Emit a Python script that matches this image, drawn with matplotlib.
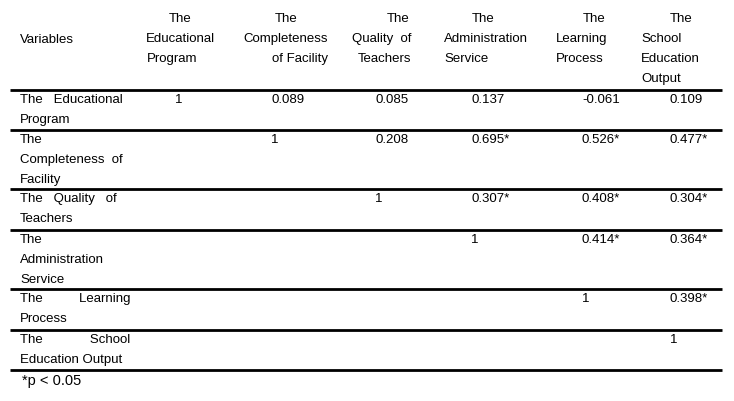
import matplotlib.pyplot as plt

plt.rcParams['font.family'] = ['Liberation Sans', 'DejaVu Sans']

row_labels = [
    ["The   Educational", "Program"],
    ["The", "Completeness  of", "Facility"],
    ["The   Quality   of", "Teachers"],
    ["The", "Administration", "Service"],
    ["The          Learning", "Process"],
    ["The             School", "Education Output"],
]
headers = [
    ["The", "Educational", "Program"],
    ["The", "Completeness", "of Facility"],
    ["The", "Quality  of", "Teachers"],
    ["The", "Administration", "Service"],
    ["The", "Learning", "Process"],
    ["The", "School", "Education", "Output"],
]
values = [
    ["1", "0.089", "0.085", "0.137", "-0.061", "0.109"],
    ["", "1", "0.208", "0.695*", "0.526*", "0.477*"],
    ["", "", "1", "0.307*", "0.408*", "0.304*"],
    ["", "", "", "1", "0.414*", "0.364*"],
    ["", "", "", "", "1", "0.398*"],
    ["", "", "", "", "", "1"],
]
note = "*p < 0.05"

fig = plt.figure(figsize=(7.34, 4.01), dpi=100)
ax = fig.add_axes([0, 0, 1, 1])
ax.set_xlim(0, 734)
ax.set_ylim(401, 0)
ax.axis('off')

fs = 9.5
line_h = 20
col_x = [175, 271, 375, 471, 582, 670]
# header alignment per line: (x, ha)
header_pos = [
    [(180, 'center'), (180, 'center'), (147, 'left')],
    [(286, 'center'), (286, 'center'), (328, 'right')],
    [(398, 'center'), (411, 'right'), (411, 'right')],
    [(483, 'center'), (444, 'left'), (444, 'left')],
    [(594, 'center'), (556, 'left'), (556, 'left')],
    [(681, 'center'), (641, 'left'), (641, 'left'), (641, 'left')],
]

ax.text(20, 40, "Variables", fontsize=fs, va='center', ha='left')
for h, pos in zip(headers, header_pos):
    for i, (txt, (x, ha)) in enumerate(zip(h, pos)):
        ax.text(x, 19 + i * line_h, txt, fontsize=fs, va='center', ha=ha)

row_lines = [90, 130, 189, 230, 289, 330, 370]
for y in row_lines:
    ax.plot([10, 722], [y, y], color='black', lw=2, solid_capstyle='butt')

for r, (lab, vals) in enumerate(zip(row_labels, values)):
    top = row_lines[r]
    for i, txt in enumerate(lab):
        ax.text(20, top + 10 + i * line_h, txt, fontsize=fs, va='center', ha='left')
    for x, v in zip(col_x, vals):
        if v:
            ax.text(x, top + 10, v, fontsize=fs, va='center', ha='left')

ax.text(22, 381, note, fontsize=fs + 1, va='center', ha='left')

fig.savefig('out.png', dpi=100)
